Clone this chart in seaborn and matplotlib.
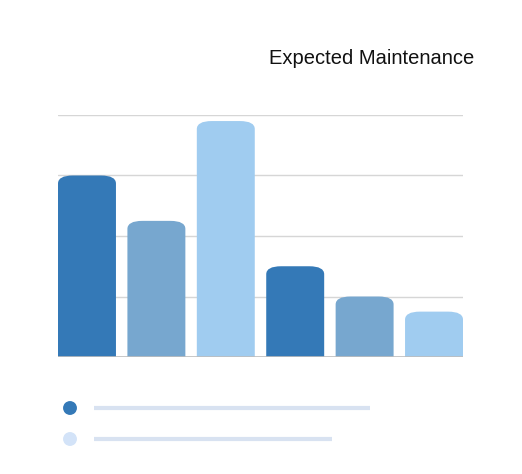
import matplotlib
matplotlib.use("Agg")
import matplotlib.pyplot as plt
from matplotlib.patches import FancyBboxPatch
from matplotlib.lines import Line2D
import seaborn as sns
import pandas as pd

# data
categories = ["A", "B", "C", "D", "E", "F"]
values = [60, 45, 78, 30, 20, 15]
bar_colors = ["#3479B7", "#77A7CF", "#A0CCF0", "#3479B7", "#77A7CF", "#A0CCF0"]
legend_colors = ["#3479B7", "#D3E3F8"]

sns.set_theme(style="white")
plt.rcParams['font.family'] = ['Liberation Sans', 'DejaVu Sans']

W, H = 522, 474
fig = plt.figure(figsize=(W / 100, H / 100), dpi=100)
ax = fig.add_axes([58 / W, 1 - 357 / H, 405 / W, 242 / H])

df = pd.DataFrame({"cat": categories, "val": values})
sns.barplot(data=df, x="cat", y="val", hue="cat", palette=bar_colors,
            width=0.835, legend=False, ax=ax, saturation=1)

# swap the flat bars for ones with rounded tops
ax.set_xlim(-0.4175, 5.4175)
ax.set_ylim(0, 80)
px_x = 405 / (5.4175 * 2)
px_y = 242 / 80
r_px = 8
rx = r_px / px_x
ry = r_px / px_y
for p in list(ax.patches):
    x0, w, h = p.get_x(), p.get_width(), p.get_height()
    col = p.get_facecolor()
    p.remove()
    rb = FancyBboxPatch((x0, -10), w, h + 10,
                        boxstyle=f"round,pad=0,rounding_size={rx}",
                        mutation_aspect=ry / rx,
                        facecolor=col, edgecolor="none", zorder=2)
    ax.add_patch(rb)

ax.set_yticks([20, 40, 60, 80])
ax.yaxis.grid(True, color="#D6D6D6", linewidth=1)
ax.set_axisbelow(True)
ax.axhline(0, color="#BDBDBD", linewidth=1.2, zorder=3)
ax.set_xticks([])
ax.set_yticklabels([])
ax.tick_params(left=False, bottom=False)
ax.set_xlabel("")
ax.set_ylabel("")
sns.despine(ax=ax, left=True, bottom=True, top=True, right=True)

fig.text(474 / W, 1 - 59 / H, "Expected Maintenance", ha="right", va="center",
         fontsize=14.5, color="#111111")

# placeholder legend rows
lax = fig.add_axes([0, 0, 1, 1], zorder=5)
lax.set_xlim(0, W)
lax.set_ylim(H, 0)
lax.axis("off")
for yy, c, x_end in zip([408, 439], legend_colors, [370, 332]):
    lax.scatter([70], [yy], s=100, color=c, edgecolor="none")
    lax.add_line(Line2D([94, x_end], [yy, yy], color="#D8E2F1", linewidth=3,
                        solid_capstyle="butt"))

fig.savefig("out.png", dpi=100)
